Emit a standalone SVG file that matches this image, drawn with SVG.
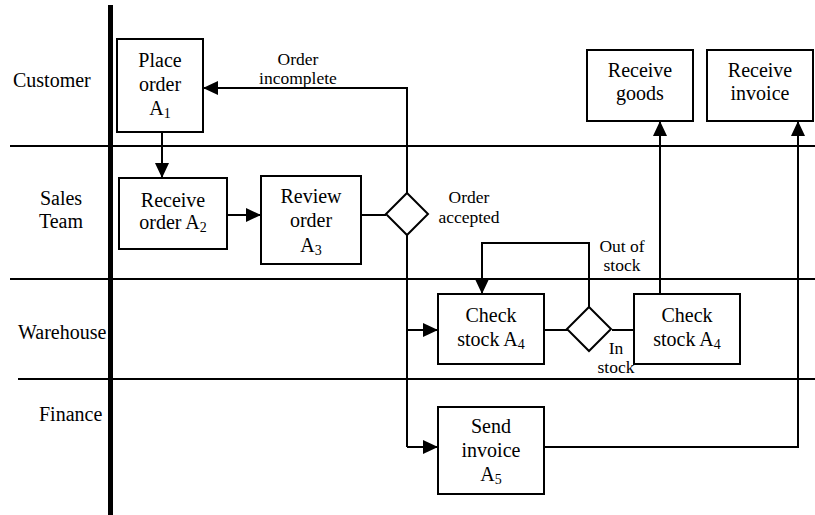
<svg xmlns="http://www.w3.org/2000/svg" width="815" height="515" viewBox="0 0 815 515">
<defs>
<style>
.lane{stroke:#000;stroke-width:2;fill:none}
.box{fill:#fff;stroke:#000;stroke-width:2}
.c{stroke:#000;stroke-width:2;fill:none}
text{font-family:"Liberation Serif","Times New Roman",serif;fill:#000}
.t{font-size:20px;text-anchor:middle}
.l{font-size:20px}
.s{font-size:17.5px;text-anchor:middle}
.sub{font-size:14px}
</style>
<marker id="ah" markerUnits="userSpaceOnUse" markerWidth="16" markerHeight="14" refX="15" refY="7" orient="auto">
<path d="M0,0 L15,7 L0,14 Z" fill="#000"/>
</marker>
</defs>
<rect width="815" height="515" fill="#fff"/>
<g id="lanes">
<line class="lane" x1="10" y1="146" x2="815" y2="146"/>
<line class="lane" x1="10" y1="279" x2="815" y2="279"/>
<line class="lane" x1="18" y1="379" x2="815" y2="379"/>
<line x1="110.5" y1="5" x2="110.5" y2="515" stroke="#000" stroke-width="5"/>
<text class="l" x="13" y="87">Customer</text>
<text class="t" x="61" y="205">Sales</text>
<text class="t" x="61" y="228">Team</text>
<text class="l" x="18" y="339">Warehouse</text>
<text class="l" x="39" y="421">Finance</text>
</g>
<g id="connectors">
<path class="c" d="M162,132 V178" marker-end="url(#ah)"/>
<path class="c" d="M227,215 H261" marker-end="url(#ah)"/>
<path class="c" d="M361,215 H386"/>
<path class="c" d="M407,193 V88 H203" marker-end="url(#ah)"/>
<path class="c" d="M407,235 V447"/>
<path class="c" d="M407,330 H438" marker-end="url(#ah)"/>
<path class="c" d="M407,447 H438" marker-end="url(#ah)"/>
<path class="c" d="M544,330 H568"/>
<path class="c" d="M612,330 H634"/>
<path class="c" d="M589,307 V243 H482 V294" marker-end="url(#ah)"/>
<path class="c" d="M660,294 V121" marker-end="url(#ah)"/>
<path class="c" d="M544,447 H798 V121" marker-end="url(#ah)"/>
<text class="s" x="298" y="65">Order</text>
<text class="s" x="298" y="84">incomplete</text>
<text class="s" x="469" y="203">Order</text>
<text class="s" x="469" y="223">accepted</text>
<text class="s" x="622" y="252">Out of</text>
<text class="s" x="622" y="271">stock</text>
<text class="s" x="616" y="354">In</text>
<text class="s" x="616" y="373">stock</text>
</g>
<g id="place-order">
<rect class="box" x="117" y="39" width="86" height="93"/>
<text class="t" x="160" y="67">Place</text>
<text class="t" x="160" y="91">order</text>
<text class="t" x="160" y="115">A<tspan class="sub" dy="3">1</tspan></text>
</g>
<g id="receive-order">
<rect class="box" x="119" y="178" width="108" height="71"/>
<text class="t" x="173" y="207">Receive</text>
<text class="t" x="173" y="229">order A<tspan class="sub" dy="3">2</tspan></text>
</g>
<g id="review-order">
<rect class="box" x="261" y="176" width="100" height="88"/>
<text class="t" x="311" y="203">Review</text>
<text class="t" x="311" y="227">order</text>
<text class="t" x="311" y="252">A<tspan class="sub" dy="3">3</tspan></text>
</g>
<g id="decision-order">
<path class="box" d="M407,193 L428,214 L407,235 L386,214 Z"/>
</g>
<g id="check-stock-1">
<rect class="box" x="438" y="294" width="106" height="70"/>
<text class="t" x="491" y="322">Check</text>
<text class="t" x="491" y="346">stock A<tspan class="sub" dy="3">4</tspan></text>
</g>
<g id="decision-stock">
<path class="box" d="M589,307 L611,329 L589,351 L567,329 Z"/>
</g>
<g id="check-stock-2">
<rect class="box" x="634" y="294" width="106" height="70"/>
<text class="t" x="687" y="322">Check</text>
<text class="t" x="687" y="346">stock A<tspan class="sub" dy="3">4</tspan></text>
</g>
<g id="receive-goods">
<rect class="box" x="587" y="50" width="106" height="71"/>
<text class="t" x="640" y="77">Receive</text>
<text class="t" x="640" y="100">goods</text>
</g>
<g id="receive-invoice">
<rect class="box" x="707" y="50" width="106" height="71"/>
<text class="t" x="760" y="77">Receive</text>
<text class="t" x="760" y="100">invoice</text>
</g>
<g id="send-invoice">
<rect class="box" x="438" y="407" width="106" height="87"/>
<text class="t" x="491" y="433">Send</text>
<text class="t" x="491" y="457">invoice</text>
<text class="t" x="491" y="481">A<tspan class="sub" dy="3">5</tspan></text>
</g>
</svg>
